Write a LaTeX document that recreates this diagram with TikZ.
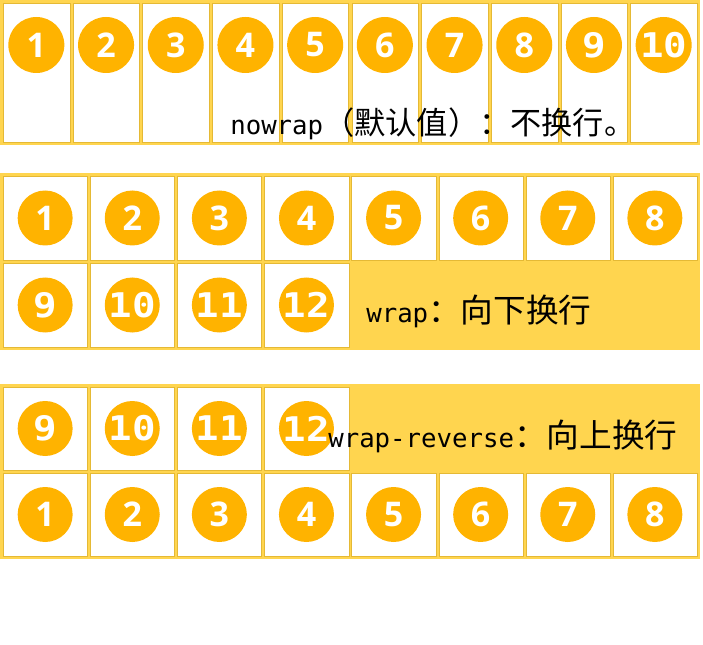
\documentclass[tikz,border=0pt]{standalone}
\usepackage{fontspec}
\usepackage{graphicx}
\newfontfamily\cjk{Noto Sans CJK SC}
\newfontfamily\monof{DejaVu Sans Mono}
\newfontfamily\numf{Open Sans}
\definecolor{cont}{HTML}{FFD54F}
\definecolor{edge}{HTML}{E5B935}
\definecolor{ball}{HTML}{FFB300}
\newcommand{\numtxt}[1]{\ifnum#1<9 {\numf\bfseries #1}\else\scalebox{1.15}[1]{\monof\bfseries #1}\fi}
\tikzset{
  container/.style={fill=cont, draw=none, rectangle, inner sep=0pt, anchor=north west},
  itembox/.style={fill=white, draw=edge, line width=0.75pt, rectangle, inner sep=0pt, anchor=north west},
  ball/.style={circle, fill=ball, inner sep=0pt, text=white, font=\fontsize{25.5}{26}\selectfont},
  cnote/.style={inner sep=0pt, anchor=base west, text=black}
}
\newcommand{\lat}[1]{{\monof\fontsize{19.3}{20}\selectfont #1}}
\newcommand{\han}[1]{{\cjk\fontsize{23.4}{24}\selectfont #1}}
\newcommand{\hanb}[1]{{\cjk\fontsize{24.5}{25}\selectfont #1}}
\begin{document}
\begin{tikzpicture}[x=0.75pt,y=-0.75pt]
\useasboundingbox (0,0) rectangle (703,645);
% containers
\node[container, minimum width=525pt, minimum height=108.75pt] (c1) at (0,0) {};
\node[container, minimum width=525pt, minimum height=132.75pt] (c2) at (0,173) {};
\node[container, minimum width=525pt, minimum height=131.25pt] (c3) at (0,384) {};
% nowrap
\foreach \i in {1,...,10}{
  \node[itembox, minimum width=50pt, minimum height=104.25pt] (a\i) at ({3+69.7*(\i-1)},3) {};
  \node[ball, minimum size=42pt] (ba\i) at ({3+69.7*(\i-1)+33.35},45) {\numtxt{\i}};
}
% wrap
\foreach \i in {1,...,8}{
  \node[itembox, minimum width=63.2pt, minimum height=63pt] (b\i) at ({3+87.1*(\i-1)},176) {};
  \node[ball, minimum size=41.25pt] (bb\i) at ({3+87.1*(\i-1)+42.15},218) {\numtxt{\i}};
}
\foreach \i [evaluate=\i as \n using int(\i+8)] in {1,...,4}{
  \node[itembox, minimum width=63.2pt, minimum height=63pt] (b\n) at ({3+87.1*(\i-1)},263) {};
  \node[ball, minimum size=41.25pt] (bb\n) at ({3+87.1*(\i-1)+42.15},305) {\numtxt{\n}};
}
% wrap-reverse
\foreach \i [evaluate=\i as \n using int(\i+8)] in {1,...,4}{
  \node[itembox, minimum width=63.2pt, minimum height=62.25pt] (r\n) at ({3+87.1*(\i-1)},387) {};
  \node[ball, minimum size=41.25pt] (rb\n) at ({3+87.1*(\i-1)+42.15},428.5) {\numtxt{\n}};
}
\foreach \i in {1,...,8}{
  \node[itembox, minimum width=63.2pt, minimum height=62.25pt] (r\i) at ({3+87.1*(\i-1)},473) {};
  \node[ball, minimum size=41.25pt] (rb\i) at ({3+87.1*(\i-1)+42.15},514.5) {\numtxt{\i}};
}
% captions
\node[cnote] (t1) at (230,135) {\lat{nowrap}\han{（默认值）：不换行。}};
\node[cnote] (t2) at (366,322) {\lat{wrap}\hanb{：向下换行}};
\node[cnote] (t3) at (328,447) {\lat{wrap-reverse}\hanb{：向上换行}};
\end{tikzpicture}
\end{document}
